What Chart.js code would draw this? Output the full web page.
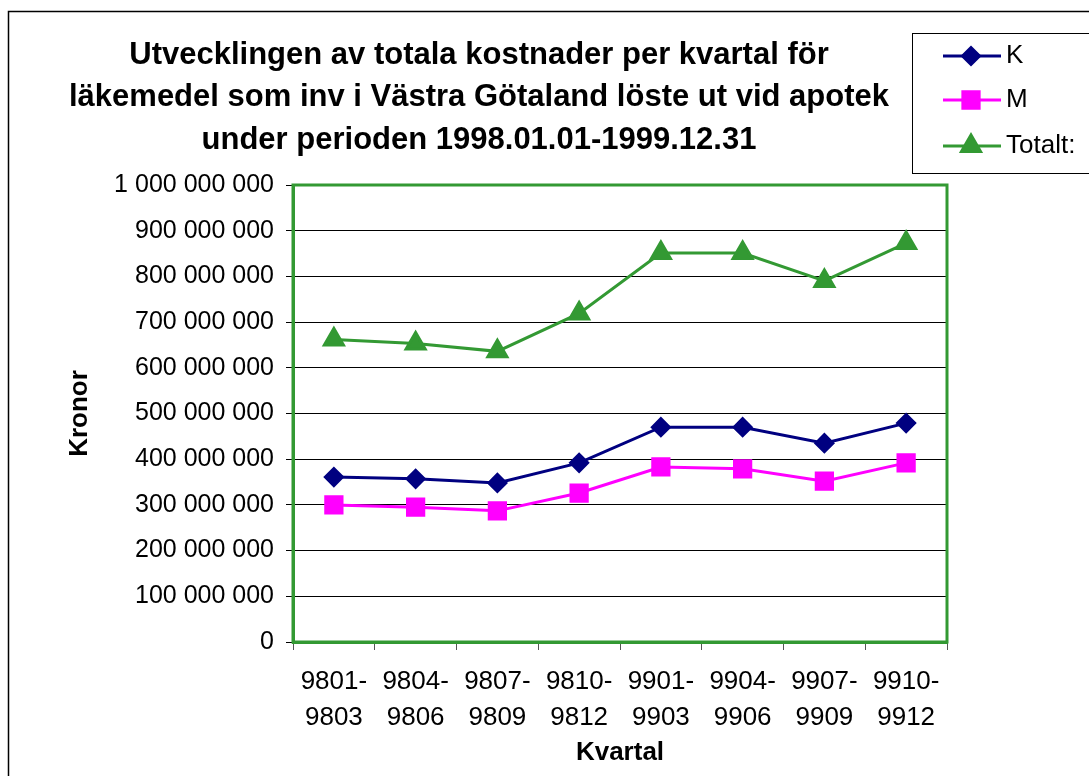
<!DOCTYPE html>
<html lang="sv">
<head>
  <meta charset="UTF-8" />
  <title>Utvecklingen av totala kostnader per kvartal</title>
  <script src="https://cdn.jsdelivr.net/npm/chart.js"></script>
  <style>
    html, body { margin: 0; padding: 0; background: #fff; }
    #wrap { width: 1089px; height: 776px; position: relative; }
  </style>
</head>
<body>
  <div id="wrap"><canvas id="costChart"></canvas></div>

  <script>
    // data
    const kvartal = [
      ["9801-", "9803"], ["9804-", "9806"], ["9807-", "9809"], ["9810-", "9812"],
      ["9901-", "9903"], ["9904-", "9906"], ["9907-", "9909"], ["9910-", "9912"]
    ];
    const kValues = [361000000, 357000000, 348000000, 392000000, 470000000, 470000000, 435000000, 479000000];
    const mValues = [300000000, 295000000, 287000000, 326000000, 383000000, 379000000, 352000000, 392000000];
    const totaltValues = [662000000, 653000000, 636000000, 719000000, 851000000, 851000000, 790000000, 873000000];
    const titleLines = [
      "Utvecklingen av totala kostnader per kvartal för",
      "läkemedel som inv i Västra Götaland löste ut vid apotek",
      "under perioden 1998.01.01-1999.12.31"
    ];

    const FONT = "Arial, 'Liberation Sans', sans-serif";
    const GREEN = "#339933";

    // frame, title and legend, drawn the way the old spreadsheet chart did it
    const decor = {
      id: "decor",
      afterDraw(chart) {
        const c = chart.ctx, a = chart.chartArea;
        c.save();
        // outer chart border
        c.strokeStyle = "#000";
        c.lineWidth = 1.5;
        c.strokeRect(8.5, 11.5, 1200, 900);
        // plot frame
        c.strokeStyle = GREEN;
        c.lineWidth = 3;
        c.strokeRect(a.left, a.top, a.right - a.left, a.bottom - a.top);
        // title
        c.fillStyle = "#000";
        c.font = "bold 31px " + FONT;
        c.textAlign = "center";
        c.textBaseline = "middle";
        titleLines.forEach((t, i) => c.fillText(t, 479, 55 + i * 42.5));
        // legend
        c.strokeStyle = "#000";
        c.lineWidth = 1;
        c.strokeRect(912.5, 33.5, 300, 140);
        c.font = "26px " + FONT;
        c.textAlign = "left";
        chart.data.datasets.forEach((ds, i) => {
          const y = [56, 100, 146][i];
          c.strokeStyle = ds.borderColor;
          c.lineWidth = 3;
          c.beginPath(); c.moveTo(943, y); c.lineTo(1001, y); c.stroke();
          Chart.helpers.drawPoint(c, {
            pointStyle: ds.pointStyle, radius: ds.pointRadius, borderWidth: 1
          }, 971, y);
          c.fillStyle = ds.borderColor;
          c.fill();
          c.fillStyle = "#000";
          c.fillText(ds.label, 1006, y);
        });
        c.restore();
      }
    };

    new Chart(document.getElementById("costChart"), {
      type: "line",
      data: {
        labels: kvartal,
        datasets: [
          { label: "K", data: kValues, borderColor: "#000080", backgroundColor: "#000080",
            pointStyle: "rectRot", pointRadius: 8.5, borderWidth: 3 },
          { label: "M", data: mValues, borderColor: "#ff00ff", backgroundColor: "#ff00ff",
            pointStyle: "rect", pointRadius: 11.5, borderWidth: 3 },
          { label: "Totalt:", data: totaltValues, borderColor: GREEN, backgroundColor: GREEN,
            pointStyle: "triangle", pointRadius: 11, borderWidth: 3 }
        ]
      },
      options: {
        responsive: true,
        maintainAspectRatio: false,
        animation: false,
        layout: { padding: { top: 185, right: 142, left: 0, bottom: 0 } },
        elements: { line: { tension: 0 } },
        plugins: { legend: { display: false }, title: { display: false }, tooltip: { enabled: false } },
        scales: {
          x: {
            offset: true,
            afterFit(s) { s.height = 134; },
            grid: { drawOnChartArea: false, offset: true, tickLength: 8, color: "#555" },
            border: { color: GREEN, width: 3 },
            ticks: { color: "#000", font: { family: FONT, size: 26, lineHeight: 1.385 }, padding: 14, maxRotation: 0 },
            title: { display: true, text: "Kvartal", color: "#000",
              font: { family: FONT, size: 26, weight: "bold" }, padding: { top: 0, bottom: 8 } }
          },
          y: {
            min: 0, max: 1000000000,
            afterFit(s) { s.width = 293; },
            grid: { color: "#000", tickLength: 7, lineWidth: 1 },
            border: { color: GREEN, width: 3 },
            ticks: {
              stepSize: 100000000, color: "#000", padding: 12,
              font: { family: FONT, size: 25 },
              callback: v => v === 0 ? "0" : String(v).replace(/\B(?=(\d{3})+(?!\d))/g, " ")
            },
            title: { display: true, text: "Kronor", color: "#000",
              font: { family: FONT, size: 26, weight: "bold" }, padding: { top: 64 } }
          }
        }
      },
      plugins: [decor]
    });
  </script>
</body>
</html>
